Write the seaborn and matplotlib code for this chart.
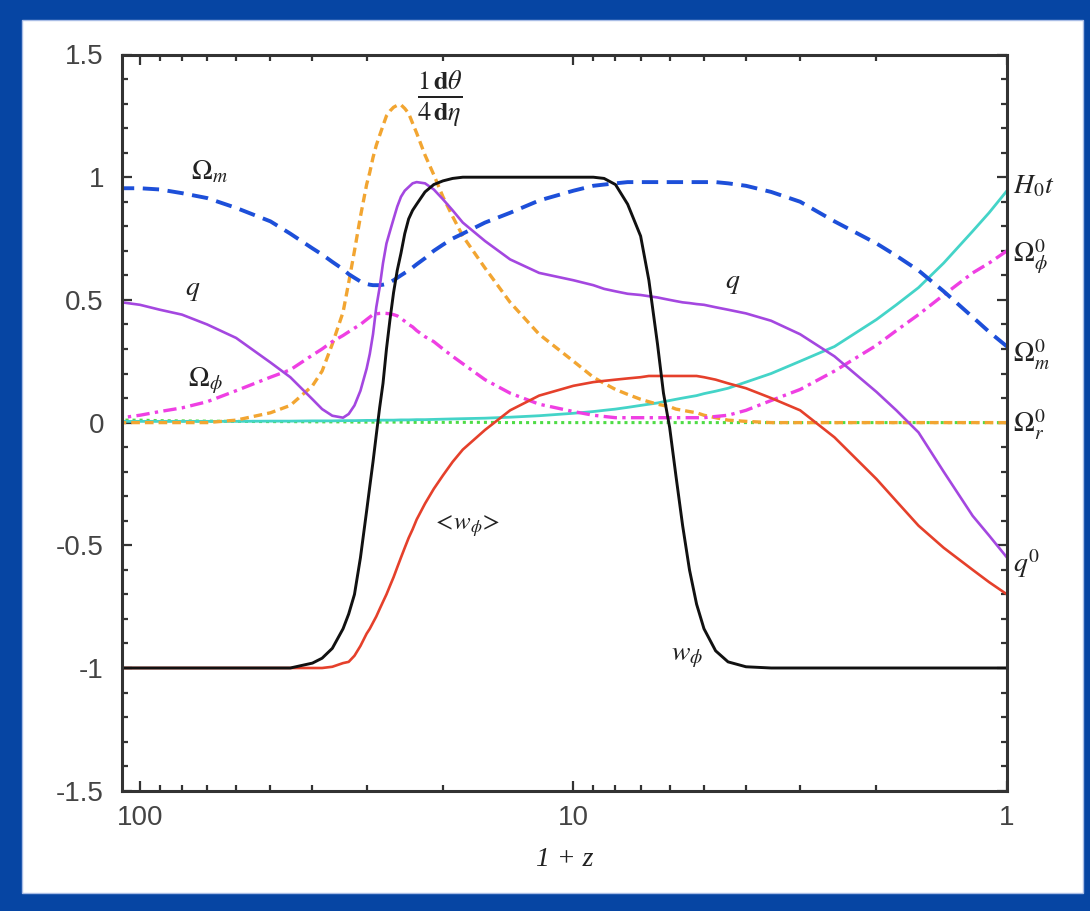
import numpy as np
import pandas as pd
import matplotlib
matplotlib.use("Agg")
import matplotlib.pyplot as plt
import matplotlib.ticker as mticker
from matplotlib.patches import Rectangle
import seaborn as sns

# ---------------- data ----------------
one_plus_z = [110, 100, 90, 80, 70, 60, 50, 45, 40,
              38, 36, 34, 33, 32, 31, 30, 29.5, 29, 28.5, 28, 27.5, 27, 26.5, 26, 25.5, 25,
              24.5, 24, 23.5, 23,
              22, 21, 20, 19, 18, 16, 14, 12, 10, 9, 8.5, 8, 7.5, 7, 6.7, 6.4, 6.2, 6.0, 5.8,
              5.6, 5.4, 5.2, 5, 4.7, 4.4, 4, 3.5, 3, 2.5, 2, 1.8, 1.6, 1.4, 1.2, 1.1, 1]

w_phi = [-1, -1, -1, -1, -1, -1, -1, -1.0, -0.98,
         -0.96, -0.92, -0.84, -0.78, -0.70, -0.55, -0.36, -0.26, -0.16, -0.05, 0.06, 0.16, 0.30,
         0.42, 0.53, 0.62, 0.69, 0.77, 0.83, 0.865, 0.89,
         0.94, 0.97, 0.985, 0.995, 1, 1, 1, 1, 1, 1.0, 0.995, 0.97, 0.89, 0.76, 0.58, 0.32, 0.12,
         -0.02, -0.22, -0.42, -0.60, -0.74, -0.84, -0.93, -0.975, -0.995, -1, -1, -1, -1, -1,
         -1, -1, -1, -1, -1]

w_phi_avg = [-1, -1, -1, -1, -1, -1, -1, -1, -1.0,
             -1.0, -0.995, -0.98, -0.975, -0.95, -0.91, -0.86, -0.84, -0.815, -0.79, -0.76,
             -0.73, -0.70, -0.665, -0.63, -0.59, -0.55, -0.51, -0.47, -0.435, -0.395,
             -0.33, -0.27, -0.215, -0.16, -0.11, -0.03, 0.05, 0.11, 0.15, 0.165, 0.17, 0.175,
             0.18, 0.185, 0.19, 0.19, 0.19, 0.19, 0.19, 0.19, 0.19, 0.19, 0.185, 0.175, 0.16,
             0.14, 0.10, 0.05, -0.06, -0.23, -0.32, -0.42, -0.51, -0.60, -0.65, -0.70]

q = [0.49, 0.48, 0.46, 0.44, 0.40, 0.345, 0.245, 0.185, 0.095,
     0.055, 0.028, 0.02, 0.035, 0.07, 0.13, 0.22, 0.28, 0.36, 0.47, 0.55, 0.65, 0.73, 0.78,
     0.83, 0.88, 0.92, 0.945, 0.96, 0.975, 0.98,
     0.975, 0.95, 0.91, 0.865, 0.815, 0.74, 0.665, 0.61, 0.58, 0.56, 0.545, 0.535, 0.525,
     0.52, 0.515, 0.51, 0.505, 0.50, 0.495, 0.49, 0.487, 0.483, 0.48, 0.47, 0.46, 0.445,
     0.415, 0.36, 0.27, 0.125, 0.05, -0.04, -0.20, -0.38, -0.46, -0.55]

omega_m = [0.955, 0.955, 0.95, 0.935, 0.915, 0.875, 0.82, 0.77, 0.71,
           0.685, 0.655, 0.625, 0.605, 0.59, 0.575, 0.565, 0.562, 0.56, 0.56, 0.56, 0.562,
           0.565, 0.572, 0.58, 0.59, 0.60, 0.61, 0.62, 0.632, 0.645,
           0.67, 0.70, 0.725, 0.75, 0.77, 0.815, 0.855, 0.905, 0.945, 0.965, 0.97, 0.975, 0.98,
           0.98, 0.98, 0.98, 0.98, 0.98, 0.98, 0.98, 0.98, 0.98, 0.98, 0.98, 0.975, 0.965,
           0.94, 0.90, 0.82, 0.73, 0.68, 0.62, 0.535, 0.43, 0.37, 0.31]

omega_phi = [0.02, 0.03, 0.045, 0.06, 0.085, 0.13, 0.185, 0.215, 0.275,
             0.30, 0.33, 0.355, 0.37, 0.385, 0.40, 0.42, 0.43, 0.44, 0.443, 0.445, 0.446,
             0.445, 0.443, 0.44, 0.435, 0.425, 0.413, 0.40, 0.39, 0.375,
             0.35, 0.33, 0.30, 0.27, 0.24, 0.175, 0.12, 0.075, 0.045, 0.03, 0.025, 0.02, 0.02,
             0.02, 0.02, 0.02, 0.02, 0.02, 0.02, 0.02, 0.02, 0.02, 0.02, 0.025, 0.03, 0.05,
             0.09, 0.135, 0.21, 0.315, 0.375, 0.44, 0.52, 0.61, 0.65, 0.70]

dtheta_deta = [0.0, 0.0, 0.0, 0.0, 0.0, 0.01, 0.04, 0.07, 0.15,
               0.21, 0.32, 0.45, 0.57, 0.70, 0.84, 0.97, 1.02, 1.08, 1.13, 1.17, 1.21, 1.25,
               1.27, 1.285, 1.293, 1.295, 1.28, 1.26, 1.22, 1.18,
               1.09, 1.01, 0.92, 0.84, 0.76, 0.63, 0.49, 0.36, 0.25, 0.185, 0.16, 0.135, 0.115,
               0.095, 0.085, 0.075, 0.07, 0.065, 0.055, 0.05, 0.045, 0.04, 0.03, 0.02, 0.01,
               0.005, 0.0, 0.0, 0.0, 0.0, 0.0, 0.0, 0.0, 0.0, 0.0, 0.0]

h0t = [0.005, 0.005, 0.005, 0.005, 0.005, 0.005, 0.006, 0.006, 0.007,
       0.007, 0.007, 0.008, 0.008, 0.008, 0.0085, 0.009, 0.009, 0.009, 0.0095, 0.01, 0.01,
       0.01, 0.01, 0.01, 0.0105, 0.011, 0.011, 0.011, 0.0115, 0.012,
       0.012, 0.013, 0.014, 0.015, 0.016, 0.018, 0.022, 0.028, 0.038, 0.045, 0.05, 0.055,
       0.062, 0.07, 0.075, 0.08, 0.085, 0.09, 0.095, 0.10, 0.105, 0.11, 0.118, 0.128, 0.14,
       0.165, 0.20, 0.25, 0.31, 0.42, 0.48, 0.55, 0.65, 0.78, 0.855, 0.945]

omega_r = [0.01, 0.01, 0.008, 0.007, 0.006, 0.005, 0.004, 0.004, 0.003,
           0.003, 0.003, 0.003, 0.003, 0.002, 0.002, 0.002, 0.002, 0.002, 0.002, 0.002, 0.002,
           0.002, 0.002, 0.002, 0.002, 0.002, 0.001, 0.001, 0.001, 0.001,
           0.001, 0.001, 0.001, 0.001, 0.001, 0.001, 0.0, 0.0, 0.0, 0.0, 0.0, 0.0, 0.0, 0.0, 0.0,
           0.0, 0.0, 0.0, 0.0, 0.0, 0.0, 0.0, 0.0, 0.0, 0.0, 0.0, 0.0, 0.0, 0.0, 0.0, 0.0, 0.0,
           0.0, 0.0, 0.0, 0.0]

y_ticks = [1.5, 1, 0.5, 0, -0.5, -1, -1.5]
x_ticks = [100, 10, 1]

df = pd.DataFrame({
    "x": one_plus_z, "w_phi": w_phi, "w_phi_avg": w_phi_avg, "q": q,
    "omega_m": omega_m, "omega_phi": omega_phi, "dtheta": dtheta_deta,
    "h0t": h0t, "omega_r": omega_r,
})

# ---------------- styling ----------------
sns.set_style("ticks")
plt.rcParams["font.family"] = ["Liberation Sans", "DejaVu Sans"]
plt.rcParams["mathtext.fontset"] = "stix"
plt.rcParams["axes.unicode_minus"] = False

W, H = 1090, 911
fig = plt.figure(figsize=(W / 100, H / 100), dpi=100, facecolor="#0645a3")
fig.add_artist(Rectangle((22 / W, 1 - 893 / H), (1083 - 22) / W, (893 - 20) / H,
                         transform=fig.transFigure, facecolor="white",
                         edgecolor="#a9bde6", lw=1.0, zorder=0))

ax = fig.add_axes([122 / W, 1 - 790.7 / H, (1007 - 122) / W, (790.7 - 54.5) / H])
ax.set_facecolor("white")
ax.set_zorder(1)

series = [
    # column, color, lw, dashes (None = solid)
    ("omega_r", "#4fdc46", 2.2, (1.0, 1.3)),
    ("h0t", "#44d4c8", 2.0, None),
    ("dtheta", "#f2a531", 2.4, (2.6, 1.5)),
    ("omega_phi", "#ef3fe3", 2.4, (4.0, 1.6, 1.0, 1.6)),
    ("omega_m", "#1d4fd9", 2.8, (4.2, 2.2)),
    ("w_phi_avg", "#e5402b", 1.9, None),
    ("q", "#a447e0", 1.9, None),
    ("w_phi", "#111111", 2.1, None),
]

for col, color, lw, dashes in series:
    sns.lineplot(data=df, x="x", y=col, ax=ax, color=color, lw=lw,
                 estimator=None, sort=True, legend=False)
    line = ax.lines[-1]
    if dashes is not None:
        line.set_dashes(dashes)
    line.set_solid_joinstyle("round")
    line.set_solid_capstyle("round")

ax.set_xscale("log")
ax.set_xlim(110, 1)
ax.set_ylim(-1.5, 1.5)

ax.xaxis.set_major_locator(mticker.FixedLocator(x_ticks))
ax.xaxis.set_major_formatter(mticker.FormatStrFormatter("%g"))
ax.xaxis.set_minor_locator(mticker.LogLocator(base=10, subs=np.arange(2, 10)))
ax.xaxis.set_minor_formatter(mticker.NullFormatter())
ax.yaxis.set_major_locator(mticker.FixedLocator(y_ticks))
ax.yaxis.set_major_formatter(mticker.FormatStrFormatter("%g"))
ax.yaxis.set_minor_locator(mticker.MultipleLocator(0.1))

for s in ax.spines.values():
    s.set_linewidth(2.2)
    s.set_color("#333333")

ax.tick_params(which="both", direction="in", top=True, right=True, color="#333333",
               width=1.6)
ax.tick_params(which="major", length=7)
ax.tick_params(which="minor", length=4)
ax.tick_params(axis="y", which="major", labelsize=20, pad=13, labelcolor="#444444")
ax.tick_params(axis="x", which="major", labelsize=20, pad=10, labelcolor="#444444")

ax.set_ylabel("")
ax.set_xlabel("1 + z", fontsize=20, fontstyle="italic", family="Liberation Serif",
              labelpad=12, color="#222222")

# ---------------- curve labels ----------------
lab_kw = dict(fontsize=20, color="#222222", ha="center", va="center", zorder=5)
ax.text(69, 1.02, r"$\Omega_m$", **lab_kw)
ax.text(75.5, 0.54, r"$q$", **lab_kw)
ax.text(70.5, 0.17, r"$\Omega_\phi$", **lab_kw)
ax.text(20.3, 1.32, r"$\frac{1\,\mathbf{d}\theta}{4\,\mathbf{d}\eta}$", fontsize=27,
        color="#222222", ha="center", va="center", zorder=5)
ax.text(4.3, 0.57, r"$q$", **lab_kw)
ax.text(17.7, -0.42, r"$<\!w_\phi\!>$", fontsize=18, color="#222222", ha="center",
        va="center", zorder=5)
ax.text(5.46, -0.955, r"$w_\phi$", **lab_kw)

tr = ax.get_yaxis_transform()
rk = dict(fontsize=20, color="#222222", ha="left", va="baseline", transform=tr,
          clip_on=False)
ax.text(1.007, 0.935, r"$H_0t$", **rk)
ax.text(1.007, 0.654, r"$\Omega_\phi^0$", **rk)
ax.text(1.007, 0.244, r"$\Omega_m^0$", **rk)
ax.text(1.007, -0.04, r"$\Omega_r^0$", **rk)
ax.text(1.007, -0.61, r"$q^0$", **rk)

fig.savefig("out.png", dpi=100, facecolor=fig.get_facecolor())
